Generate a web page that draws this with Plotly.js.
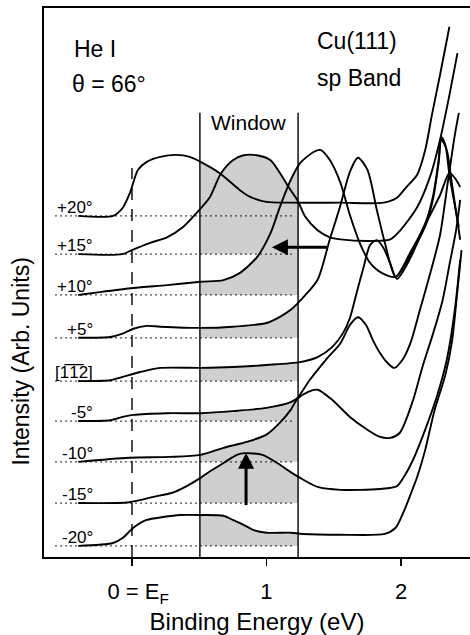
<!DOCTYPE html>
<html><head><meta charset="utf-8">
<script src="https://cdn.plot.ly/plotly-3.0.1.min.js"></script>
<style>html,body{margin:0;padding:0;background:#fff}</style>
</head><body>
<div id="chart" style="width:470px;height:635px"></div>
<script>
// ---- data ----
const angleLabels = ['+20°','+15°','+10°','+5°','[1\u03051\u03052]','-5°','-10°','-15°','-20°'];
const offsets = [8.28, 7.35, 6.36, 5.32, 4.27, 3.30, 2.31, 1.31, 0.27];

const eP20 = [-0.40,-0.14,-0.07,-0.015,0.045,0.11,0.21,0.33,0.43,0.51,0.65,0.80,0.88,1.00,1.17,1.55,1.87,1.97,2.04,2.12,2.18,2.23,2.29,2.36];
const iP20 = [0,0,0.19,0.56,1.12,1.31,1.43,1.48,1.43,1.31,1.04,0.63,0.46,0.34,0.32,0.32,0.32,0.44,0.70,1.00,1.60,2.45,3.42,4.59];

const eP15 = [-0.40,-0.07,0,0.13,0.26,0.38,0.48,0.58,0.66,0.75,0.83,0.93,1.03,1.10,1.18,1.23,1.29,1.38,1.47,1.55,1.77,1.92,1.99,2.12,2.22,2.29,2.36,2.42];
const iP15 = [0,0,0.10,0.27,0.41,0.66,1.00,1.39,1.95,2.28,2.40,2.40,2.28,1.97,1.55,1.31,0.90,0.58,0.41,0.36,0.32,0.36,0.56,1.14,1.92,2.77,3.86,4.88];

const eP10 = [-0.40,-0.24,0.01,0.26,0.51,0.68,0.80,0.93,1.03,1.10,1.18,1.25,1.35,1.40,1.47,1.55,1.62,1.70,1.77,1.86,1.96,2.07,2.14,2.19,2.24,2.28,2.30,2.33,2.36,2.40,2.43];
const iP10 = [0,0.07,0.17,0.24,0.32,0.36,0.53,0.92,1.50,2.14,2.79,3.20,3.47,3.52,3.28,2.72,1.94,1.21,0.78,0.53,0.44,1.04,1.46,1.82,2.43,3.28,3.83,3.64,2.91,2.18,1.65];

const eP5 = [-0.40,-0.16,-0.07,0.01,0.11,0.21,0.51,0.75,1.00,1.10,1.18,1.27,1.38,1.47,1.55,1.62,1.68,1.75,1.82,1.88,1.96,2.07,2.14,2.19,2.24,2.28,2.30,2.34,2.38,2.44];
const iP5 = [0,0.02,0.10,0.22,0.29,0.27,0.24,0.27,0.36,0.51,0.68,0.97,1.41,2.38,3.22,4.03,4.37,4.08,3.11,2.31,1.48,2.01,2.43,2.79,3.40,4.25,4.81,4.56,3.71,2.38];

const e112 = [-0.40,-0.16,-0.07,0.06,0.21,0.51,0.75,1.00,1.25,1.38,1.49,1.57,1.62,1.67,1.72,1.77,1.82,1.87,1.92,1.97,2.07,2.18,2.29,2.36,2.40,2.44];
const i112 = [0,0.02,0.10,0.22,0.32,0.32,0.34,0.39,0.46,0.58,0.83,1.17,1.53,2.14,2.74,3.30,3.42,3.23,2.86,2.48,2.99,3.79,4.51,5.05,4.93,4.71];

const eM5 = [-0.40,-0.16,-0.07,0.01,0.26,0.51,0.75,1.00,1.18,1.23,1.32,1.44,1.55,1.62,1.68,1.74,1.79,1.84,1.90,1.95,2.01,2.07,2.14,2.22,2.29,2.35,2.40,2.43];
const iM5 = [0,0.02,0.10,0.15,0.19,0.19,0.24,0.32,0.46,0.56,0.99,1.48,1.89,2.33,2.52,2.33,1.97,1.67,1.41,1.29,1.48,1.89,2.69,3.62,4.51,5.84,6.94,7.48];

const eM10 = [-0.40,-0.02,0.28,0.51,0.68,0.86,1.00,1.10,1.18,1.23,1.31,1.38,1.49,1.62,1.75,1.84,1.92,1.99,2.09,2.16,2.24,2.31,2.36,2.41,2.44];
const iM10 = [0,0.10,0.12,0.17,0.34,0.49,0.66,0.95,1.26,1.53,1.70,1.75,1.50,1.09,0.78,0.61,0.58,0.70,1.50,2.31,3.13,3.93,4.78,5.63,6.36];

const eM15 = [-0.40,-0.02,0.16,0.30,0.40,0.51,0.58,0.68,0.78,0.84,0.97,1.08,1.18,1.25,1.38,1.55,1.84,1.97,2.03,2.09,2.18,2.27,2.34,2.40,2.44];
const iM15 = [0,0.02,0.15,0.25,0.40,0.61,0.77,0.97,1.17,1.21,1.17,0.97,0.75,0.61,0.39,0.32,0.34,0.41,0.68,1.05,1.78,2.62,3.47,4.68,5.90];

const eM20 = [-0.40,-0.14,-0.07,0.01,0.11,0.23,0.36,0.51,0.68,0.75,0.83,0.90,1.00,1.18,1.27,1.55,1.88,1.96,2.02,2.07,2.12,2.18,2.25,2.33,2.38,2.42,2.45];
const iM20 = [0,0.07,0.19,0.44,0.63,0.70,0.75,0.75,0.73,0.63,0.51,0.39,0.32,0.32,0.29,0.27,0.29,0.44,0.83,1.24,1.67,2.33,3.30,4.15,4.98,6.21,7.18];

const windowEdges = [0.505, 1.235];   // eV
const fermiLevel = 0;
const xTickVals = [0, 1, 2];
const xTickText = ['\u00a0\u00a00 = E<sub>F</sub>', '1', '2'];
// arrows, relative to a spectrum baseline
const arrowShift = {spectrum: 1, e0: 1.45, e1: 1.04, level: 0.17};   // +15°
const arrowPeak  = {spectrum: 7, e: 0.848, i0: -0.05, i1: 1.22};     // -15°

const energies = [eP20,eP15,eP10,eP5,e112,eM5,eM10,eM15,eM20];
const intensities = [iP20,iP15,iP10,iP5,i112,iM5,iM10,iM15,iM20];

// ---- layout constants ----
const xMin = -0.654, xMax = 2.513, yMax = 13.325;
const pxPerE = 426 / (xMax - xMin), pxPerY = 549 / yMax;
const FONT = 'Liberation Sans, Arial, Helvetica, sans-serif';
const SM = 0.75;

const traces = [];
// fills (clipped to the window via subplot 'xy')
for (let k = 0; k < energies.length; k++) {
  const E = energies[k], I = intensities[k], off = offsets[k];
  traces.push({x:[E[0], E[E.length-1]], y:[off, off], xaxis:'x', yaxis:'y', mode:'lines',
    line:{width:0}, hoverinfo:'skip', showlegend:false});
  traces.push({x:E, y:I.map(v => v + off), xaxis:'x', yaxis:'y', mode:'lines',
    line:{width:0, shape:'spline', smoothing:SM}, fill:'tonexty', fillcolor:'#cfcfcf',
    hoverinfo:'skip', showlegend:false});
}
// window edges & Fermi level
traces.push({x:[windowEdges[0], windowEdges[0]], y:[0, 10.78], xaxis:'x2', yaxis:'y', mode:'lines',
  line:{color:'#000', width:1.4}, showlegend:false});
traces.push({x:[windowEdges[1], windowEdges[1]], y:[0, 10.78], xaxis:'x2', yaxis:'y', mode:'lines',
  line:{color:'#000', width:1.4}, showlegend:false});
traces.push({x:[fermiLevel, fermiLevel], y:[0, 9.44], xaxis:'x2', yaxis:'y', mode:'lines',
  line:{color:'#000', width:1.4, dash:'12px,9px'}, showlegend:false});
// dotted baselines
for (let k = 0; k < energies.length; k++) {
  traces.push({x:[-0.57, 1.20], y:[offsets[k], offsets[k]], xaxis:'x2', yaxis:'y', mode:'lines',
    line:{color:'#000', width:1.3, dash:'1.4px,3.6px'}, showlegend:false});
}
// spectra
for (let k = 0; k < energies.length; k++) {
  traces.push({x:energies[k], y:intensities[k].map(v => v + offsets[k]), xaxis:'x2', yaxis:'y',
    mode:'lines', line:{color:'#000', width:1.9, shape:'spline', smoothing:SM}, showlegend:false});
}
// arrows (shaft + head marker whose tip sits on the point)
const yS = offsets[arrowShift.spectrum] + arrowShift.level;
traces.push({x:[arrowShift.e0, arrowShift.e1 + 10/pxPerE], y:[yS, yS], xaxis:'x2', yaxis:'y',
  mode:'lines', line:{color:'#000', width:3}, showlegend:false});
traces.push({x:[arrowShift.e1], y:[yS], xaxis:'x2', yaxis:'y', mode:'markers',
  marker:{symbol:'arrow-left', size:16, color:'#000', line:{width:0}}, showlegend:false});
const offP = offsets[arrowPeak.spectrum];
traces.push({x:[arrowPeak.e, arrowPeak.e], y:[offP + arrowPeak.i0, offP + arrowPeak.i1 - 10/pxPerY],
  xaxis:'x2', yaxis:'y', mode:'lines', line:{color:'#000', width:3}, showlegend:false});
traces.push({x:[arrowPeak.e], y:[offP + arrowPeak.i1], xaxis:'x2', yaxis:'y', mode:'markers',
  marker:{symbol:'arrow-up', size:16, color:'#000', line:{width:0}}, showlegend:false});

const annotations = [];
for (let k = 0; k < angleLabels.length; k++) {
  annotations.push({x:-0.275, y:offsets[k] + 0.21, xref:'x2', yref:'y', text:angleLabels[k],
    showarrow:false, xanchor:'right', yanchor:'middle', font:{family:FONT, size:17, color:'#000'}});
}
const txt = (t, x, y, size, anchor) => ({x, y, xref:'x2', yref:'y', text:t, showarrow:false,
  xanchor:anchor || 'left', yanchor:'middle', font:{family:FONT, size, color:'#000'}});
annotations.push(txt('He I', -0.446, 12.33, 23));
annotations.push(txt('\u03b8 = 66°', -0.461, 11.48, 23));
annotations.push(txt('Cu(111)', 1.361, 12.52, 23));
annotations.push(txt('sp Band', 1.361, 11.63, 23));
annotations.push(txt('Window', 0.870, 10.55, 21, 'center'));
// y title
annotations.push({xref:'paper', yref:'paper', x:-0.054, y:0.356, text:'Intensity (Arb. Units)',
  textangle:-90, showarrow:false, xanchor:'center', yanchor:'middle', font:{family:FONT, size:23, color:'#000'}});

const d0 = (windowEdges[0] - xMin) / (xMax - xMin);
const d1 = (windowEdges[1] - xMin) / (xMax - xMin);

const layout = {
  width:470, height:635, margin:{l:44, r:0, t:8, b:78},
  paper_bgcolor:'#fff', plot_bgcolor:'rgba(0,0,0,0)', showlegend:false,
  font:{family:FONT, color:'#000'},
  xaxis:{domain:[d0, d1], range:windowEdges, anchor:'y', visible:false, showgrid:false, zeroline:false},
  xaxis2:{domain:[0,1], range:[xMin, xMax], anchor:'y', showgrid:false, zeroline:false,
    showline:true, linewidth:1.6, linecolor:'#000', mirror:true,
    tickvals:xTickVals, ticktext:xTickText, ticks:'outside', ticklen:7, tickwidth:1.4, tickcolor:'#000',
    ticklabelstandoff:7,
    tickfont:{family:FONT, size:22, color:'#000'},
    title:{text:'Binding Energy (eV)', font:{family:FONT, size:24, color:'#000'}, standoff:12}},
  yaxis:{domain:[0,1], range:[0, yMax], anchor:'x2', showgrid:false, zeroline:false,
    showline:true, linewidth:1.6, linecolor:'#000', showticklabels:false, ticks:''},
  annotations
};
Plotly.newPlot('chart', traces, layout, {staticPlot:true, displayModeBar:false}).then(gd => {
  // drop empty placeholder text nodes left by hidden axes
  gd.querySelectorAll('text').forEach(t => { if (!t.textContent.replace(/\s/g, '')) t.remove(); });
});
</script>
</body></html>
